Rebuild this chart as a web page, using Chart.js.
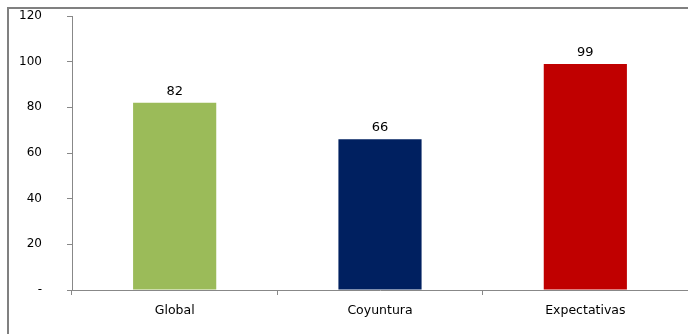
<!DOCTYPE html>
<html>
<head>
<meta charset="utf-8">
<script src="https://cdn.jsdelivr.net/npm/chart.js@4"></script>
<style>
  body { margin: 0; background: #fff; overflow: hidden; }
</style>
</head>
<body>
<canvas id="chart" width="688" height="334"></canvas>
<script>
const categories = ['Global', 'Coyuntura', 'Expectativas'];
const values = [82, 66, 99];
const barColors = ['#9BBB59', '#002060', '#C00000'];
const yTicks = [0, 20, 40, 60, 80, 100, 120];

const fontFamily = "'DejaVu Sans', Verdana, sans-serif";

// outer frame: only left and top edges fall inside the picture
const frame = {
  id: 'frame',
  beforeDraw(chart) {
    const ctx = chart.ctx;
    ctx.save();
    ctx.strokeStyle = '#808080';
    ctx.lineWidth = 2;
    ctx.beginPath();
    ctx.moveTo(8, chart.height);
    ctx.lineTo(8, 8);
    ctx.lineTo(chart.width, 8);
    ctx.stroke();
    ctx.restore();
  },
};

// y tick labels, right-aligned well left of the axis
const yLabels = {
  id: 'yLabels',
  afterDraw(chart) {
    const ctx = chart.ctx;
    const y = chart.scales.y;
    ctx.save();
    ctx.font = '12px ' + fontFamily;
    ctx.fillStyle = '#000';
    ctx.textAlign = 'right';
    ctx.textBaseline = 'middle';
    yTicks.forEach((v) => {
      ctx.fillText(v === 0 ? '-' : String(v), y.right - 30, y.getPixelForValue(v));
    });
    ctx.restore();
  },
};

// value labels above each bar
const barLabels = {
  id: 'barLabels',
  afterDatasetsDraw(chart) {
    const ctx = chart.ctx;
    const meta = chart.getDatasetMeta(0);
    ctx.save();
    ctx.font = '13px ' + fontFamily;
    ctx.fillStyle = '#000';
    ctx.textAlign = 'center';
    ctx.textBaseline = 'bottom';
    meta.data.forEach((bar, i) => {
      ctx.fillText(values[i], bar.x, bar.y - 5);
    });
    ctx.restore();
  },
};

new Chart(document.getElementById('chart'), {
  type: 'bar',
  data: {
    labels: categories,
    datasets: [{
      data: values,
      backgroundColor: barColors,
      categoryPercentage: 1,
      barPercentage: 0.405,
    }],
  },
  options: {
    responsive: false,
    animation: false,
    layout: { padding: { top: 16, right: 0, bottom: 0, left: 0 } },
    plugins: {
      legend: { display: false },
      tooltip: { enabled: false },
    },
    scales: {
      x: {
        offset: true,
        grid: { offset: true, drawOnChartArea: false, color: '#888', tickLength: 5 },
        border: { color: '#888' },
        ticks: { color: '#000', font: { size: 12.5, family: fontFamily }, padding: 8 },
        afterFit(scale) { scale.height = 44; },
      },
      y: {
        min: 0,
        max: 120,
        afterBuildTicks(scale) { scale.ticks = yTicks.map((v) => ({ value: v })); },
        grid: { drawOnChartArea: false, color: '#888', tickLength: 5 },
        border: { color: '#888' },
        ticks: { display: false },
        afterFit(scale) {
          scale.width = 72;
          scale.paddingTop = 0;
          scale.paddingBottom = 0;
        },
      },
    },
  },
  plugins: [frame, yLabels, barLabels],
});
</script>
</body>
</html>
